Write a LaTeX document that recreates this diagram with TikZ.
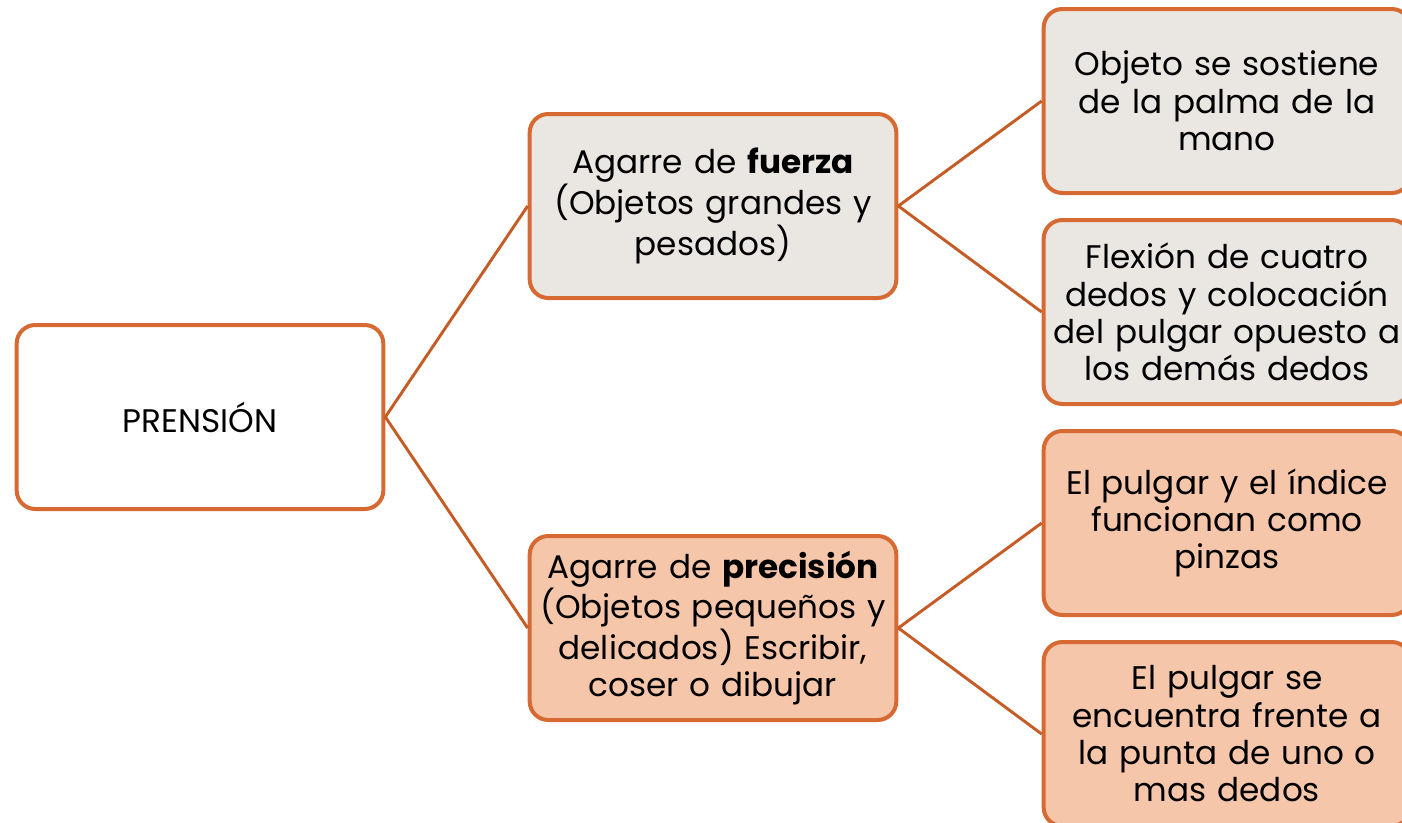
\documentclass[tikz,border=0pt]{standalone}
\usepackage{fontspec}
\setmainfont{Poppins}
\setlength{\lineskiplimit}{-100pt}
\definecolor{bord}{RGB}{214,106,50}
\definecolor{conn}{RGB}{197,92,38}
\definecolor{greyfill}{RGB}{234,230,226}
\definecolor{peach}{RGB}{246,198,170}
\tikzset{
  box/.style={draw=bord, line width=3pt, rounded corners=14pt, minimum width=275pt, minimum height=138pt, text width=268pt, align=center, inner sep=0pt, font=\fontsize{24.5}{28}\selectfont},
  greybox/.style={box, fill=greyfill},
  peachbox/.style={box, fill=peach},
  conline/.style={draw=conn, line width=2.2pt}
}
\begin{document}
\begin{tikzpicture}[x=0.75pt,y=-0.75pt]
\useasboundingbox (0,0) rectangle (1402,822);
\node[box, fill=white] (root) at (200,417) {PRENSIÓN};
\node[greybox] (fz) at (713,206) {Agarre de \textbf{fuerza}\\(Objetos grandes y\\pesados)};
\node[peachbox] (pr) at (713,628) {Agarre de \textbf{precisión}\\(Objetos pequeños y\\delicados) Escribir,\\coser o dibujar};
\node[greybox] (a1) at (1227,101) {Objeto se sostiene\\de la palma de la\\mano};
\node[greybox] (a2) at (1227,312) {Flexión de cuatro\\dedos y colocación\\del pulgar opuesto a\\los demás dedos};
\node[peachbox] (b1) at (1227,523) {El pulgar y el índice\\funcionan como\\pinzas};
\node[peachbox] (b2) at (1227,734) {El pulgar se\\encuentra frente a\\la punta de uno o\\mas dedos};
\draw[conline] (root.east) -- (fz.west);
\draw[conline] (root.east) -- (pr.west);
\draw[conline] (fz.east) -- (a1.west);
\draw[conline] (fz.east) -- (a2.west);
\draw[conline] (pr.east) -- (b1.west);
\draw[conline] (pr.east) -- (b2.west);
\end{tikzpicture}
\end{document}
